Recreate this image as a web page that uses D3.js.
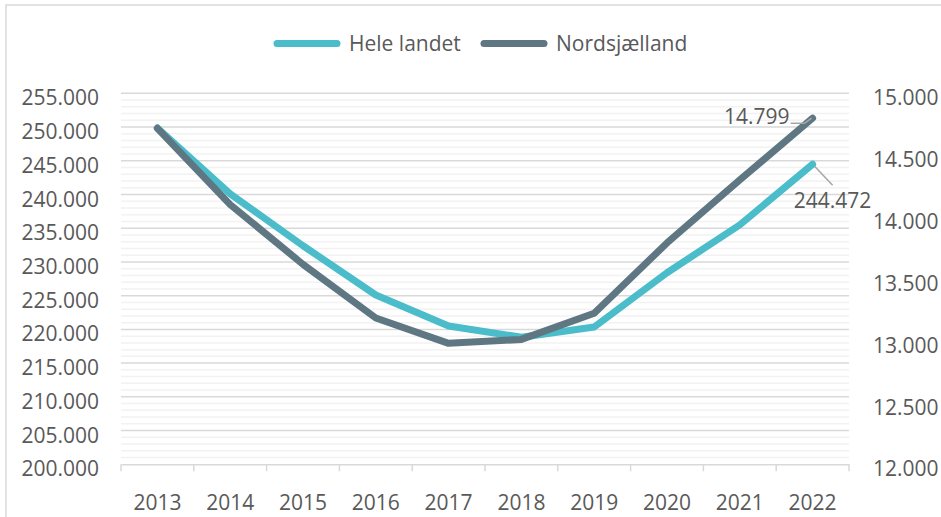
<!DOCTYPE html>
<html>
<head>
<meta charset="utf-8">
<script src="https://cdn.jsdelivr.net/npm/d3@7"></script>
<style>
  html, body { margin: 0; padding: 0; background: #fff; }
  svg { display: block; }
  text { font-family: "Open Sans", "Noto Sans", sans-serif; fill: #595959; }
</style>
</head>
<body>
<svg id="chart" width="941" height="517"></svg>
<script>
const years = ["2013","2014","2015","2016","2017","2018","2019","2020","2021","2022"];
const heleLandet = [249850, 240100, 232400, 225100, 220500, 218840, 220350, 228400, 235500, 244472];
const nordsjaelland = [14717, 14100, 13617, 13183, 12978, 13010, 13221, 13790, 14300, 14799];
const seriesNames = ["Hele landet", "Nordsjælland"];
const leftTicks = [200000, 205000, 210000, 215000, 220000, 225000, 230000, 235000, 240000, 245000, 250000, 255000];
const rightTicks = [12000, 12500, 13000, 13500, 14000, 14500, 15000];

const colors = ["#4BBCC9", "#5F7783"];

const locale = d3.formatLocale({decimal: ",", thousands: ".", grouping: [3], currency: ["", " kr"]});
const fmt = locale.format(",.0f");

const svg = d3.select("#chart");
const plotLeft = 121, plotRight = 849, plotTop = 93.3, plotBottom = 464.3;

// outer chart border
svg.append("rect").attr("x", 6).attr("y", 5).attr("width", 1000).attr("height", 1000)
  .attr("fill", "none").attr("stroke", "#D9D9D9").attr("stroke-width", 1.5);

const x = d3.scaleBand().domain(years).range([plotLeft, plotRight]).padding(0);
const yL = d3.scaleLinear().domain([200000, 255000]).range([plotBottom, plotTop]);
const yR = d3.scaleLinear().domain([12000, 15000]).range([plotBottom, plotTop]);
const cx = d => x(d) + x.bandwidth() / 2;

// gridlines: minor every 1000, major every 5000
const grid = d3.range(200000, 255001, 1000);
svg.append("g").selectAll("line").data(grid.filter(v => v % 5000 !== 0)).join("line")
  .attr("x1", plotLeft).attr("x2", plotRight)
  .attr("y1", d => yL(d)).attr("y2", d => yL(d))
  .attr("stroke", "#F2F2F2").attr("stroke-width", 1.5);
svg.append("g").selectAll("line").data(grid.filter(v => v % 5000 === 0 && v !== 200000)).join("line")
  .attr("x1", plotLeft).attr("x2", plotRight)
  .attr("y1", d => yL(d)).attr("y2", d => yL(d))
  .attr("stroke", "#D9D9D9").attr("stroke-width", 1.5);

// x axis baseline and category separators
const xAxis = svg.append("g").attr("transform", `translate(0,${plotBottom})`)
  .call(d3.axisBottom(x).tickSize(0).tickPadding(34));
xAxis.select(".domain").attr("stroke", "#D9D9D9").attr("stroke-width", 1.5);
xAxis.selectAll("text").attr("font-size", 21).attr("fill", "#595959")
  .attr("font-family", "Open Sans").attr("dy", "0.55em");
const bounds = years.map(d => x(d)).concat([plotRight]);
svg.append("g").selectAll("line").data(bounds).join("line")
  .attr("x1", d => d).attr("x2", d => d)
  .attr("y1", plotBottom).attr("y2", plotBottom + 7)
  .attr("stroke", "#D9D9D9").attr("stroke-width", 1.5);

// left axis
const la = svg.append("g").attr("transform", `translate(${plotLeft},0)`)
  .call(d3.axisLeft(yL).tickValues(leftTicks).tickFormat(fmt).tickSize(0).tickPadding(22));
la.select(".domain").remove();
la.selectAll("text").attr("font-size", 21).attr("fill", "#595959")
  .attr("font-family", "Open Sans").attr("dy", "0.55em");

// right axis
const ra = svg.append("g").attr("transform", `translate(${plotRight},0)`)
  .call(d3.axisRight(yR).tickValues(rightTicks).tickFormat(fmt).tickSize(0).tickPadding(24));
ra.select(".domain").remove();
ra.selectAll("text").attr("font-size", 21).attr("fill", "#595959")
  .attr("font-family", "Open Sans").attr("dy", "0.55em");

// lines
const lineL = d3.line().x((d, i) => cx(years[i])).y(d => yL(d));
const lineR = d3.line().x((d, i) => cx(years[i])).y(d => yR(d));
svg.append("path").datum(heleLandet).attr("d", lineL)
  .attr("fill", "none").attr("stroke", colors[0]).attr("stroke-width", 7)
  .attr("stroke-linejoin", "round").attr("stroke-linecap", "round");
svg.append("path").datum(nordsjaelland).attr("d", lineR)
  .attr("fill", "none").attr("stroke", colors[1]).attr("stroke-width", 7)
  .attr("stroke-linejoin", "round").attr("stroke-linecap", "round");

// data labels for last points
const lastX = cx(years[years.length - 1]);
const pN = [lastX, yR(nordsjaelland[nordsjaelland.length - 1])];
const pH = [lastX, yL(heleLandet[heleLandet.length - 1])];

svg.append("polyline")
  .attr("points", [[pN[0] - 22, pN[1] + 5], [pN[0] - 8, pN[1] + 5], [pN[0] - 1, pN[1]]].map(p => p.join(",")).join(" "))
  .attr("fill", "none").attr("stroke", "#A6A6A6").attr("stroke-width", 1.5);
svg.append("text").attr("x", pN[0] - 23).attr("y", pN[1] - 2)
  .attr("text-anchor", "end").attr("dy", "0.35em").attr("font-size", 21)
  .text(fmt(nordsjaelland[nordsjaelland.length - 1]));

svg.append("line")
  .attr("x1", pH[0] + 2).attr("y1", pH[1] + 2).attr("x2", pH[0] + 20).attr("y2", pH[1] + 21)
  .attr("stroke", "#A6A6A6").attr("stroke-width", 1.5);
svg.append("text").attr("x", pH[0] + 20).attr("y", pH[1] + 36)
  .attr("text-anchor", "middle").attr("dy", "0.35em").attr("font-size", 21)
  .text(fmt(heleLandet[heleLandet.length - 1]));

// legend
const legendItems = [
  {name: seriesNames[0], color: colors[0], x: 277},
  {name: seriesNames[1], color: colors[1], x: 484}
];
const lg = svg.append("g");
legendItems.forEach(it => {
  lg.append("line").attr("x1", it.x).attr("x2", it.x + 60).attr("y1", 43.5).attr("y2", 43.5)
    .attr("stroke", it.color).attr("stroke-width", 7).attr("stroke-linecap", "round");
  lg.append("text").attr("x", it.x + 72).attr("y", 44).attr("dy", "0.35em")
    .attr("font-size", 21).text(it.name);
});
</script>
</body>
</html>
